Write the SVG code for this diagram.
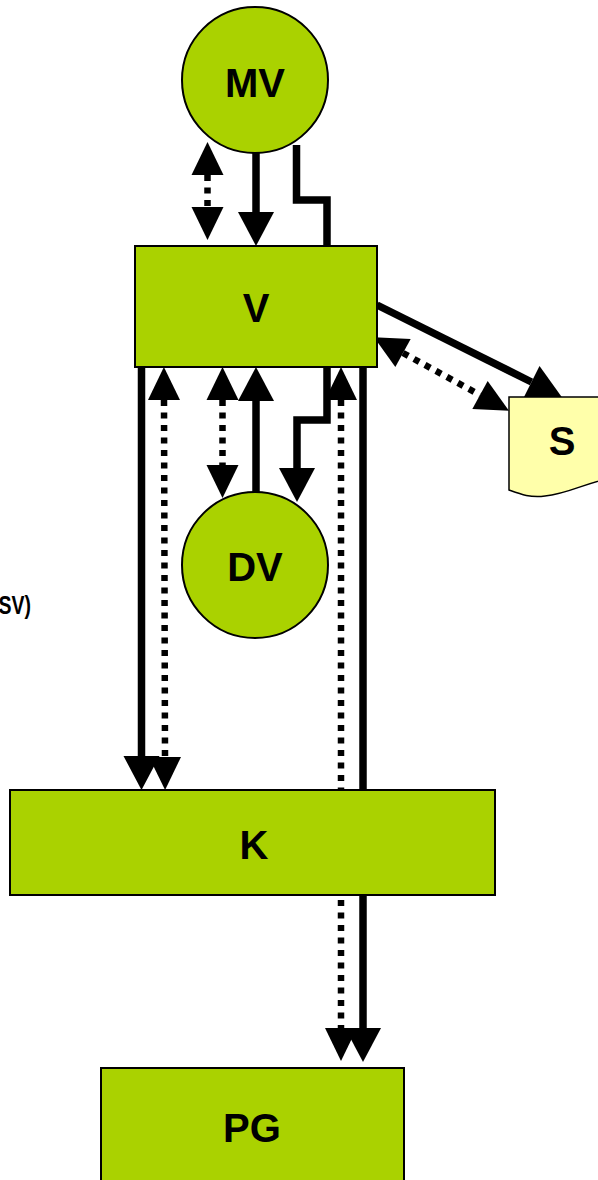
<svg xmlns="http://www.w3.org/2000/svg" width="598" height="1180" viewBox="0 0 598 1180">
<style>
.node{fill:#AAD200;stroke:#000;stroke-width:2}
.doc{fill:#FFFFAA;stroke:#000;stroke-width:1.5}
.lbl{font-family:"Liberation Sans",Arial,sans-serif;font-weight:bold;font-size:40px;fill:#000;text-anchor:middle}
.sol{fill:none;stroke:#000;stroke-width:7.5}
.dot{fill:none;stroke:#000;stroke-width:6.5;stroke-dasharray:6 6.5}
</style>
<defs>
<marker id="as" markerUnits="userSpaceOnUse" markerWidth="36" markerHeight="36" refX="0" refY="18" orient="auto-start-reverse" overflow="visible">
<path d="M0,0 L34,18 L0,36 Z" fill="#000"/>
</marker>
<marker id="ad" markerUnits="userSpaceOnUse" markerWidth="33" markerHeight="32" refX="0" refY="16" orient="auto-start-reverse" overflow="visible">
<path d="M0,0 L33,16 L0,32 Z" fill="#000"/>
</marker>
</defs>
<rect width="598" height="1180" fill="#fff"/>
<g id="connectors">
<line class="dot" x1="207.5" y1="175" x2="207.5" y2="207" marker-start="url(#ad)" marker-end="url(#ad)"/>
<line class="sol" x1="256" y1="153" x2="256" y2="212" marker-end="url(#as)"/>
<polyline class="sol" points="296.5,145 296.5,200 327,200 327,246"/>
<line class="sol" x1="377" y1="305" x2="531.5" y2="382" marker-end="url(#as)"/>
<line class="dot" x1="403" y1="353" x2="480" y2="395" marker-start="url(#ad)" marker-end="url(#ad)"/>
<line class="sol" x1="141.5" y1="367" x2="141.5" y2="756" marker-end="url(#as)"/>
<line class="dot" x1="164" y1="400" x2="165" y2="757" marker-start="url(#ad)" marker-end="url(#ad)"/>
<line class="dot" x1="222.5" y1="400" x2="222.5" y2="465" marker-start="url(#ad)" marker-end="url(#ad)"/>
<line class="sol" x1="256" y1="492" x2="256" y2="401" marker-end="url(#as)"/>
<polyline class="sol" points="327,367 327,420 297,420 297,468" marker-end="url(#as)"/>
<line class="dot" x1="341" y1="400" x2="341" y2="1028" marker-start="url(#ad)" marker-end="url(#ad)"/>
<line class="sol" x1="363" y1="367" x2="363" y2="1028" marker-end="url(#as)"/>
</g>
<g id="node-MV">
<circle class="node" cx="255" cy="80" r="73"/>
<text class="lbl" x="255" y="97">MV</text>
</g>
<g id="node-V">
<rect class="node" x="135" y="246" width="242" height="121"/>
<text class="lbl" x="256" y="322">V</text>
</g>
<g id="node-S">
<path class="doc" d="M509,397 H612 V478 C590,481 568,494 545,496 C530,498 520,494 509,490 Z"/>
<text class="lbl" x="562" y="455">S</text>
</g>
<g id="node-DV">
<circle class="node" cx="255" cy="565" r="73"/>
<text class="lbl" x="255" y="581">DV</text>
</g>
<g id="node-K">
<rect class="node" x="10" y="790" width="485" height="105"/>
<text class="lbl" x="254" y="859">K</text>
</g>
<g id="node-PG">
<rect class="node" x="101" y="1068" width="303" height="125"/>
<text class="lbl" x="252" y="1142">PG</text>
</g>
<text transform="translate(-1.5,614) scale(0.75,1)" x="0" y="0" font-family="'Liberation Sans',Arial,sans-serif" font-weight="bold" font-size="26" fill="#000">SV)</text>
</svg>
